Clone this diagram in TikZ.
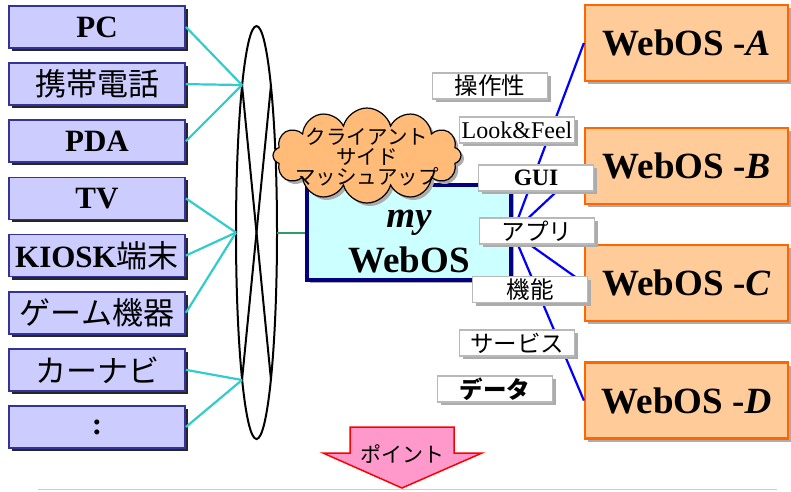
\documentclass[tikz,border=0pt]{standalone}
\usepackage{fontspec}
\setmainfont{Liberation Serif}
\newfontfamily\jp{Noto Sans CJK JP}
\usetikzlibrary{shapes.symbols,shadows}
\definecolor{devfill}{RGB}{204,204,255}
\definecolor{devline}{RGB}{51,51,153}
\definecolor{cyanlink}{RGB}{51,204,204}
\definecolor{greenlink}{RGB}{51,153,102}
\definecolor{mynavy}{RGB}{0,0,128}
\definecolor{myfill}{RGB}{204,255,255}
\definecolor{osfill}{RGB}{255,204,153}
\definecolor{osline}{RGB}{255,102,0}
\definecolor{cloudfill}{RGB}{255,187,119}
\definecolor{ptfill}{RGB}{255,153,204}
\definecolor{rulecol}{RGB}{170,221,204}
\tikzset{
	darkshadow/.style={drop shadow={shadow xshift=3pt,shadow yshift=-3pt,opacity=1,fill=black!85}},
	greyshadow/.style={drop shadow={shadow xshift=3pt,shadow yshift=-3pt,opacity=1,fill=gray!65}},
	devbox/.style={draw=devline,fill=devfill,line width=1.8pt,minimum width=176pt,minimum height=42pt,inner sep=0pt,darkshadow,font=\fontsize{31}{31}\selectfont},
	devlink/.style={cyanlink,line width=2.2pt},
	osbox/.style={draw=osline,fill=osfill,line width=2.2pt,minimum width=203pt,minimum height=76pt,inner sep=0pt,greyshadow,font=\bfseries\fontsize{37}{37}\selectfont},
	oslink/.style={blue,line width=2.2pt},
	tagbox/.style={draw=gray!55,fill=white,line width=1.5pt,minimum width=115pt,minimum height=26pt,inner sep=0pt,greyshadow,font=\jp\fontsize{23.5}{23.5}\selectfont},
	cloudbox/.style={cloud,cloud puffs=12,aspect=2.1,draw=black,fill=cloudfill,line width=1.2pt,minimum width=188pt,minimum height=95pt,inner sep=0pt,greyshadow}
}
\begin{document}
\begin{tikzpicture}[x=1pt,y=-1pt]
	\useasboundingbox (0,0) rectangle (791,491);
	%DEVICES
	\foreach \nm/\txt [count=\i from 0] in {pc/{\bfseries PC},mobile/{\jp 携帯電話},pda/{\bfseries PDA},tv/{\bfseries TV},kiosk/{{\bfseries KIOSK}{\jp 端末}},game/{\jp ゲーム機器},navi/{\jp カーナビ},more/{\bfseries :}}
		\node[devbox] (\nm) at (97,27+57.14*\i) {\txt};
	%RING
	\coordinate (hubT) at (242,85);
	\coordinate (hubM) at (236,232.5);
	\coordinate (hubB) at (242,380);
	\coordinate (hubTR) at (271,85);
	\coordinate (hubBR) at (271,380);
	\coordinate (ringE) at (277,232.5);
	\draw[line width=2pt] (256.5,232.5) ellipse [x radius=20.5,y radius=206.5];
	\draw[line width=2pt] (hubT) -- (hubBR);
	\draw[line width=2pt] (hubTR) -- (hubB);
	\foreach \nm/\h in {pc/hubT,mobile/hubT,pda/hubT,tv/hubM,kiosk/hubM,game/hubM,navi/hubB,more/hubB}
		\draw[devlink] (\nm.east) -- (\h);
	%MY WEBOS
	\node[draw=mynavy,fill=myfill,line width=3.5pt,minimum width=204pt,minimum height=95pt,greyshadow] (my) at (409,232.5) {};
	\node[align=center,font=\bfseries\fontsize{37}{45}\selectfont] (mytext) at ([yshift=-9pt]my.center) {\textit{my}\\WebOS};
	\draw[greenlink,line width=2pt] (ringE) -- (my.west);
	\node[cloudbox] (mashup) at (367,155.5) {};
	\node[align=center,font=\jp\fontsize{20.5}{20}\selectfont] (mashtext) at (367,157) {クライアント\\サイド\\マッシュアップ};
	%WEBOS A-D
	\node[osbox] (osA) at (686.5,43) {WebOS -\textit{A}};
	\node[osbox] (osB) at (686.5,166) {WebOS -\textit{B}};
	\node[osbox] (osC) at (686.5,283) {WebOS -\textit{C}};
	\node[osbox] (osD) at (686.5,400.5) {WebOS -\textit{D}};
	\foreach \os in {osA,osB,osC,osD}
		\draw[oslink] (my.east) -- (\os.west);
	%TAGS
	\node[tagbox] (ops) at (490,86) {操作性};
	\node[tagbox,font=\fontsize{24}{24}\selectfont] (look) at (517,130) {Look\&Feel};
	\node[tagbox,font=\bfseries\fontsize{23.5}{23.5}\selectfont] (gui) at (536,178) {GUI};
	\node[tagbox] (app) at (537,231) {アプリ};
	\node[tagbox] (func) at (530,289.5) {機能};
	\node[tagbox] (svc) at (517,343) {サービス};
	\node[tagbox,font=\jp\bfseries\fontsize{23.5}{23.5}\selectfont] (data) at (495,389) {データ};
	%POINT ARROW
	\draw[red,fill=ptfill,line width=1.5pt,line join=miter] (350,427) -- (454,427) -- (454,453) -- (482,453) -- (402,488) -- (323,453) -- (350,453) -- cycle;
	\node[font=\jp\fontsize{21}{21}\selectfont] (point) at (402,454) {ポイント};
	\draw[rulecol,line width=1.2pt] (38,489.5) -- (777,489.5);
\end{tikzpicture}
\end{document}
